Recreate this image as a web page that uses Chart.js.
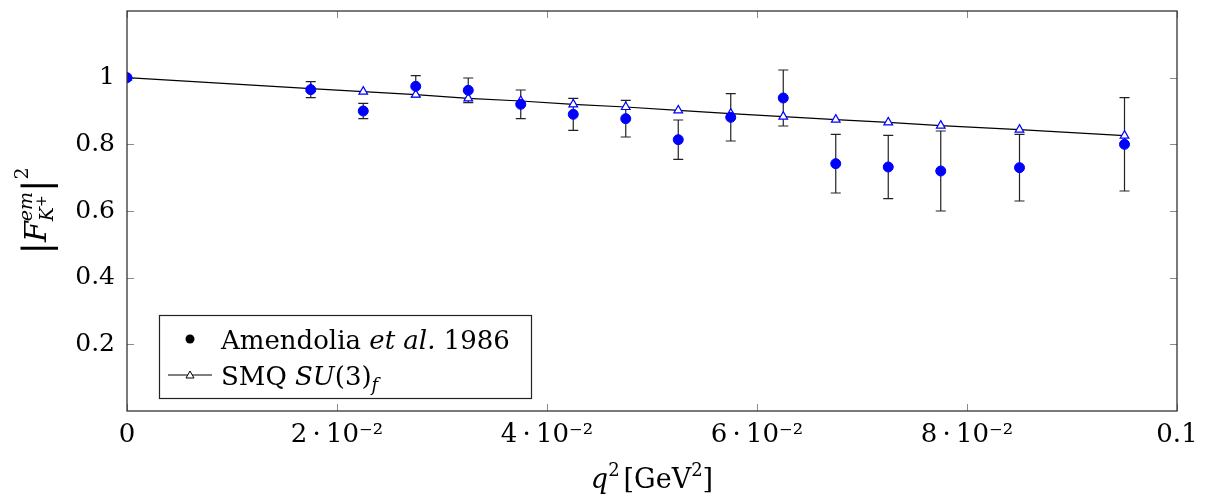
<!DOCTYPE html>
<html>
<head>
<meta charset="utf-8">
<script src="https://cdn.jsdelivr.net/npm/chart.js@4.4.0/dist/chart.umd.min.js"></script>
<style>
  html, body { margin: 0; padding: 0; background: #fff; }
</style>
</head>
<body>
<canvas id="myChart" width="1206" height="503"></canvas>
<script>
// Amendolia et al. 1986 data
const q2Exp  = [0, 0.0175, 0.0225, 0.0275, 0.0325, 0.0375, 0.0425, 0.0475, 0.0525, 0.0575, 0.0625, 0.0675, 0.0725, 0.0775, 0.085, 0.095];
const ffExp  = [1.0, 0.964, 0.900, 0.974, 0.962, 0.920, 0.890, 0.877, 0.814, 0.881, 0.939, 0.742, 0.732, 0.720, 0.730, 0.800];
const errExp = [0, 0.024, 0.023, 0.032, 0.037, 0.043, 0.048, 0.055, 0.059, 0.071, 0.084, 0.088, 0.095, 0.120, 0.100, 0.140];

// SMQ SU(3)_f curve
const q2Smq = [0, 0.0175, 0.0225, 0.0275, 0.0325, 0.0375, 0.0425, 0.0475, 0.0525, 0.0575, 0.0625, 0.0675, 0.0725, 0.0775, 0.085, 0.095];
const ffSmq = [1.0, 0.967, 0.958, 0.949, 0.938, 0.930, 0.920, 0.912, 0.902, 0.892, 0.883, 0.874, 0.866, 0.856, 0.844, 0.826];

const xTickValues = [0, 0.02, 0.04, 0.06, 0.08, 0.1];
const xTickLabels = ['0', '2\u2009·\u200910⁻²', '4\u2009·\u200910⁻²', '6\u2009·\u200910⁻²', '8\u2009·\u200910⁻²', '0.1'];
const yTickValues = [0.2, 0.4, 0.6, 0.8, 1.0];
const yTickLabels = ['0.2', '0.4', '0.6', '0.8', '1'];

const serif = '"DejaVu Serif", serif';

function layoutRuns(ctx, runs) {
    let x = 0;
    let items = [];
    for (const r of runs) {
        if (r.stack) {
            let w = 0;
            for (const sub of r.stack) {
                let sx = x;
                for (const s of sub) {
                    ctx.font = s.font;
                    items.push({ t: s.t, font: s.font, x: sx, dy: s.dy || 0 });
                    sx += ctx.measureText(s.t).width;
                }
                w = Math.max(w, sx - x);
            }
            x += w;
        } else {
            ctx.font = r.font;
            items.push({ t: r.t, font: r.font, x: x, dy: r.dy || 0 });
            x += ctx.measureText(r.t).width + (r.gap || 0);
        }
    }
    return { items: items, width: x };
}

function drawRuns(ctx, runs, x, y, align) {
    const lay = layoutRuns(ctx, runs);
    const x0 = align === 'center' ? x - lay.width / 2 : x;
    ctx.textAlign = 'left';
    ctx.textBaseline = 'alphabetic';
    ctx.fillStyle = '#000';
    for (const it of lay.items) {
        ctx.font = it.font;
        ctx.fillText(it.t, x0 + it.x, y + it.dy);
    }
}

// frame, inside tick marks and error bars
const framePlugin = {
    id: 'frame',
    beforeDatasetsDraw(chart) {
        const ctx = chart.ctx;
        const a = chart.chartArea;
        const xs = chart.scales.x;
        const ys = chart.scales.y;
        ctx.save();
        ctx.strokeStyle = '#8a8a8a';
        ctx.lineWidth = 1;
        ctx.beginPath();
        for (const v of xTickValues) {
            const px = Math.round(xs.getPixelForValue(v)) + 0.5;
            ctx.moveTo(px, a.bottom); ctx.lineTo(px, a.bottom - 7);
            ctx.moveTo(px, a.top); ctx.lineTo(px, a.top + 7);
        }
        for (const v of yTickValues) {
            const py = Math.round(ys.getPixelForValue(v)) + 0.5;
            ctx.moveTo(a.left, py); ctx.lineTo(a.left + 7, py);
            ctx.moveTo(a.right, py); ctx.lineTo(a.right - 7, py);
        }
        ctx.stroke();

        ctx.strokeStyle = '#222';
        ctx.lineWidth = 1.2;
        ctx.beginPath();
        for (let i = 0; i < q2Exp.length; i++) {
            if (!errExp[i]) continue;
            const px = xs.getPixelForValue(q2Exp[i]);
            const yt = ys.getPixelForValue(ffExp[i] + errExp[i]);
            const yb = ys.getPixelForValue(ffExp[i] - errExp[i]);
            ctx.moveTo(px, yt); ctx.lineTo(px, yb);
            ctx.moveTo(px - 5, yt); ctx.lineTo(px + 5, yt);
            ctx.moveTo(px - 5, yb); ctx.lineTo(px + 5, yb);
        }
        ctx.stroke();
        ctx.restore();
    },
    afterDraw(chart) {
        const ctx = chart.ctx;
        const a = chart.chartArea;
        ctx.save();
        ctx.strokeStyle = '#333';
        ctx.lineWidth = 1.3;
        ctx.strokeRect(a.left, a.top, a.right - a.left, a.bottom - a.top);

        // legend
        const lx = a.left + 32, ly = a.top + 304, lw = 372, lh = 83;
        ctx.fillStyle = '#fff';
        ctx.fillRect(lx, ly, lw, lh);
        ctx.strokeStyle = '#222';
        ctx.lineWidth = 1.2;
        ctx.strokeRect(lx + 0.5, ly + 0.5, lw, lh);
        ctx.fillStyle = '#000';
        ctx.beginPath();
        ctx.arc(lx + 31, ly + 24, 4.5, 0, Math.PI * 2);
        ctx.fill();
        drawRuns(ctx, [
            { t: 'Amendolia ', font: '26px ' + serif },
            { t: 'et al.', font: 'italic 26px ' + serif },
            { t: ' 1986', font: '26px ' + serif }
        ], lx + 62, ly + 34, 'left');

        ctx.strokeStyle = '#000';
        ctx.lineWidth = 1;
        ctx.beginPath();
        ctx.moveTo(lx + 9, ly + 60); ctx.lineTo(lx + 53, ly + 60);
        ctx.stroke();
        ctx.fillStyle = '#fff';
        ctx.beginPath();
        ctx.moveTo(lx + 31, ly + 56); ctx.lineTo(lx + 35, ly + 63); ctx.lineTo(lx + 27, ly + 63); ctx.closePath();
        ctx.fill(); ctx.stroke();
        drawRuns(ctx, [
            { t: 'SMQ ', font: '26px ' + serif },
            { t: 'SU', font: 'italic 26px ' + serif },
            { t: '(3)', font: '26px ' + serif },
            { t: 'f', font: 'italic 18px ' + serif, dy: 6 }
        ], lx + 62, ly + 70, 'left');

        // x axis title
        drawRuns(ctx, [
            { t: 'q', font: 'italic 27px ' + serif },
            { t: '2', font: '18px ' + serif, dy: -12, gap: 4 },
            { t: '[GeV', font: '27px ' + serif },
            { t: '2', font: '18px ' + serif, dy: -12 },
            { t: ']', font: '27px ' + serif }
        ], (a.left + a.right) / 2, 488, 'center');

        // y axis title
        ctx.translate(36, (a.top + a.bottom) / 2);
        ctx.rotate(-Math.PI / 2);
        drawRuns(ctx, [
            { t: '|', font: '37px ' + serif, dy: 3 },
            { t: 'F', font: 'italic 30px ' + serif },
            { stack: [
                [{ t: 'em', font: 'italic 19px ' + serif, dy: -14 }],
                [{ t: 'K', font: 'italic 19px ' + serif, dy: 7 }, { t: '+', font: '14px ' + serif, dy: 0 }]
            ] },
            { t: '|', font: '37px ' + serif, dy: 3 },
            { t: '2', font: '19px ' + serif, dy: -18 }
        ], 0, 10, 'center');
        ctx.restore();
    }
};

new Chart(document.getElementById('myChart'), {
    type: 'scatter',
    data: {
        datasets: [{
            label: 'Amendolia et al. 1986',
            data: q2Exp.map((x, i) => ({ x: x, y: ffExp[i] })),
            pointStyle: 'circle',
            pointRadius: 5,
            backgroundColor: '#0000ff',
            borderColor: '#0000ff',
            borderWidth: 1
        }, {
            label: 'SMQ SU(3)f',
            data: q2Smq.map((x, i) => ({ x: x, y: ffSmq[i] })),
            showLine: true,
            tension: 0,
            borderColor: '#000',
            borderWidth: 1.2,
            pointStyle: 'triangle',
            pointRadius: 5,
            pointBackgroundColor: '#fff',
            pointBorderColor: '#0000ff',
            pointBorderWidth: 1.2
        }]
    },
    options: {
        responsive: false,
        animation: false,
        layout: { padding: { left: 0, top: 11, right: 29, bottom: 0 } },
        plugins: {
            legend: { display: false },
            tooltip: { enabled: false }
        },
        scales: {
            x: {
                type: 'linear',
                min: 0,
                max: 0.1,
                afterFit(s) { s.height = 92; s.paddingLeft = 0; s.paddingRight = 0; },
                afterBuildTicks(s) { s.ticks = xTickValues.map(v => ({ value: v })); },
                grid: { display: false, drawTicks: false },
                border: { display: false },
                ticks: {
                    autoSkip: false,
                    maxRotation: 0,
                    padding: 9,
                    color: '#000',
                    font: { family: serif, size: 26 },
                    callback: (v, i) => xTickLabels[i]
                }
            },
            y: {
                min: 0,
                max: 1.2,
                afterFit(s) { s.width = 127; s.paddingTop = 0; s.paddingBottom = 0; },
                afterBuildTicks(s) { s.ticks = yTickValues.map(v => ({ value: v })); },
                grid: { display: false, drawTicks: false },
                border: { display: false },
                ticks: {
                    autoSkip: false,
                    padding: 12,
                    color: '#000',
                    font: { family: serif, size: 25 },
                    callback: (v, i) => yTickLabels[i]
                }
            }
        }
    },
    plugins: [framePlugin]
});
</script>
</body>
</html>
